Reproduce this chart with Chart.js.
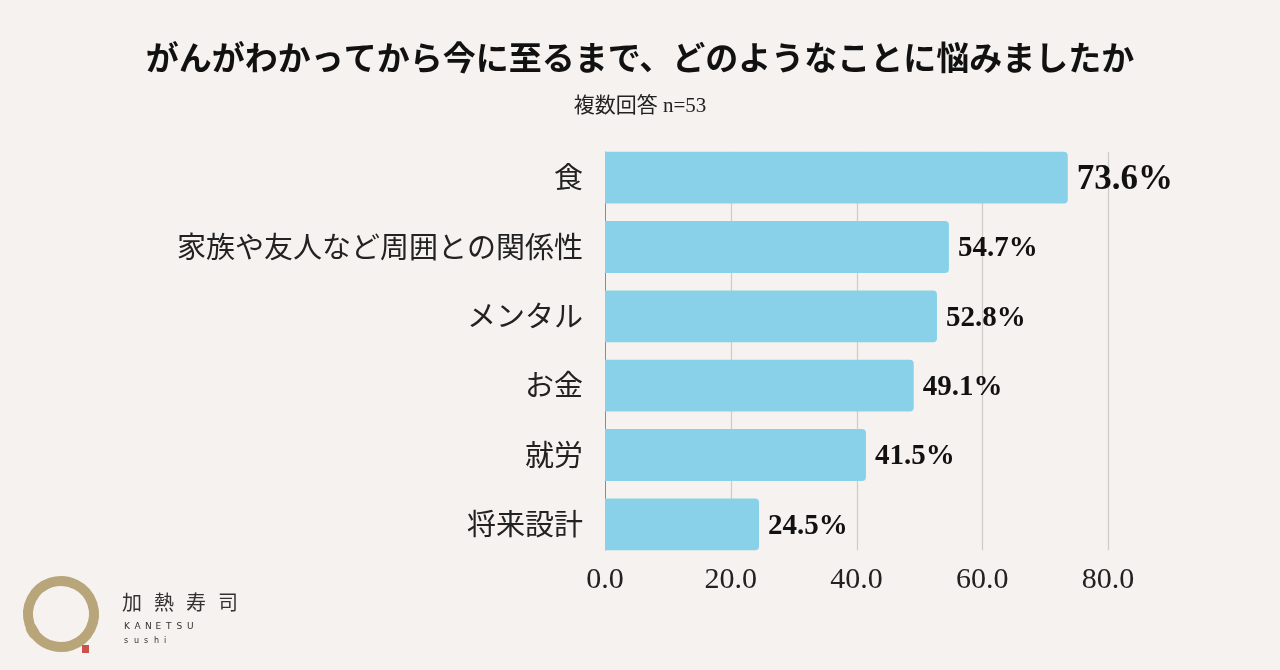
<!DOCTYPE html>
<html lang="ja">
<head>
<meta charset="utf-8">
<title>がんがわかってから今に至るまで、どのようなことに悩みましたか</title>
<script src="https://cdn.jsdelivr.net/npm/chart.js@4.4.1/dist/chart.umd.min.js"></script>
<style>
  html, body { margin: 0; padding: 0; background: #f5f2ef; }
  #wrap { position: relative; width: 1280px; height: 670px; }
</style>
</head>
<body>
<div id="wrap"><canvas id="chart" width="1280" height="670"></canvas></div>
<script>
// --- data ---
const chartTitle = 'がんがわかってから今に至るまで、どのようなことに悩みましたか';
const chartSubtitle = '複数回答 n=53';
const categories = ['食', '家族や友人など周囲との関係性', 'メンタル', 'お金', '就労', '将来設計'];
const percentValues = [73.6, 54.7, 52.8, 49.1, 41.5, 24.5];
const axisTicks = [0, 20, 40, 60, 80];

const serif = "'Liberation Serif', 'DejaVu Serif', 'Noto Sans CJK JP', serif";
const bg = '#f5f2ef';

// background, headings and logo
const backdrop = {
    id: 'backdrop',
    beforeDraw(chart) {
        const ctx = chart.ctx;
        ctx.save();
        ctx.fillStyle = bg;
        ctx.fillRect(0, 0, chart.width, chart.height);
        ctx.restore();
    },
    afterDraw(chart) {
        const ctx = chart.ctx;
        ctx.save();
        // title + subtitle, centred on the page
        ctx.textAlign = 'center';
        ctx.textBaseline = 'middle';
        ctx.fillStyle = '#111';
        ctx.font = 'bold 33px ' + serif;
        ctx.fillText(chartTitle, 640, 61);
        ctx.fillStyle = '#222';
        ctx.font = '21px ' + serif;
        ctx.fillText(chartSubtitle, 640, 106);
        ctx.textAlign = 'left';

        // ring
        ctx.strokeStyle = '#b8a57a';
        ctx.lineCap = 'round';
        ctx.lineWidth = 10;
        ctx.beginPath();
        ctx.arc(61, 614, 33, Math.PI * 0.9, Math.PI * 0.76 + Math.PI * 2);
        ctx.stroke();
        ctx.lineWidth = 11;
        ctx.beginPath();
        ctx.arc(61, 614, 33, Math.PI * 0.8, Math.PI * 0.86);
        ctx.stroke();
        // seal
        ctx.fillStyle = '#c9524a';
        ctx.fillRect(82, 645, 7, 8);
        // names
        ctx.fillStyle = '#333';
        ctx.font = "20px 'Noto Sans CJK JP'";
        ['加', '熱', '寿', '司'].forEach((c, i) => ctx.fillText(c, 122 + i * 32, 602));
        ctx.font = "9px 'DejaVu Sans'";
        'KANETSU'.split('').forEach((c, i) => ctx.fillText(c, 124 + i * 10.5, 627));
        ctx.font = "8px 'DejaVu Sans'";
        'sushi'.split('').forEach((c, i) => ctx.fillText(c, 124 + i * 10, 641));
        ctx.restore();
    }
};

// grid lines only over the span of the bars (like the original)
const barGrid = {
    id: 'barGrid',
    beforeDatasetsDraw(chart) {
        const ctx = chart.ctx;
        const bars = chart.getDatasetMeta(0).data;
        const first = bars[0], last = bars[bars.length - 1];
        const top = first.y - first.height / 2;
        const bottom = last.y + last.height / 2;
        const x = chart.scales.x;
        ctx.save();
        axisTicks.forEach((v, i) => {
            const px = Math.round(x.getPixelForValue(v)) + 0.5;
            ctx.strokeStyle = i === 0 ? '#8e8a86' : '#cfcbc6';
            ctx.lineWidth = i === 0 ? 1 : 1.2;
            ctx.beginPath();
            ctx.moveTo(px, top);
            ctx.lineTo(px, bottom);
            ctx.stroke();
        });
        ctx.restore();
    }
};

// value labels at bar ends
const barValues = {
    id: 'barValues',
    afterDatasetsDraw(chart) {
        const ctx = chart.ctx;
        const meta = chart.getDatasetMeta(0);
        ctx.save();
        ctx.fillStyle = '#111';
        ctx.textBaseline = 'middle';
        meta.data.forEach((bar, i) => {
            ctx.font = (i === 0 ? 'bold 35px ' : 'bold 29px ') + serif;
            ctx.fillText(percentValues[i].toFixed(1) + '%', bar.x + 9, bar.y + 2);
        });
        ctx.restore();
    }
};

new Chart(document.getElementById('chart'), {
    type: 'bar',
    data: {
        labels: categories,
        datasets: [{
            data: percentValues,
            backgroundColor: '#89d1e8',
            borderRadius: { topRight: 4, bottomRight: 4 },
            borderSkipped: false,
            barPercentage: 0.84,
            categoryPercentage: 0.89
        }]
    },
    options: {
        indexAxis: 'y',
        responsive: false,
        animation: false,
        layout: { padding: { left: 0, right: 172, top: 143, bottom: 69 } },
        plugins: {
            legend: { display: false },
            tooltip: { enabled: false }
        },
        scales: {
            x: {
                min: axisTicks[0],
                max: axisTicks[axisTicks.length - 1],
                afterBuildTicks(scale) {
                    scale.ticks = axisTicks.map(v => ({ value: v }));
                },
                grid: { display: false, drawTicks: false },
                border: { display: false },
                ticks: {
                    color: '#222',
                    padding: 3,
                    font: { family: serif, size: 30 },
                    callback: v => Number(v).toFixed(1)
                }
            },
            y: {
                afterFit(scale) { scale.width = 605; },
                grid: { display: false, drawTicks: false },
                border: { display: false },
                ticks: {
                    color: '#222',
                    padding: 22,
                    labelOffset: 3,
                    font: { family: serif, size: 29 }
                }
            }
        }
    },
    plugins: [backdrop, barGrid, barValues]
});
</script>
</body>
</html>
